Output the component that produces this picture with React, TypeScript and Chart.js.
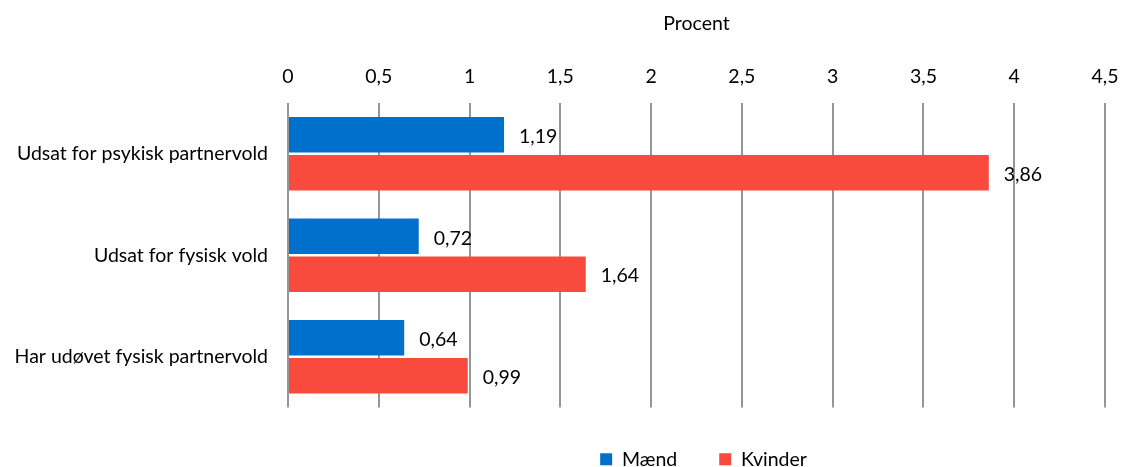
import React, { useEffect, useRef } from "react";
import { Chart, registerables } from "chart.js";

Chart.register(...registerables);

const categories = [
  "Udsat for psykisk partnervold",
  "Udsat for fysisk vold",
  "Har udøvet fysisk partnervold",
];
const maendValues = [1.19, 0.72, 0.64];
const kvinderValues = [3.86, 1.64, 0.99];
const seriesNames = ["Mænd", "Kvinder"];
const axisTitle = "Procent";
const xMin = 0;
const xMax = 4.5;
const xStep = 0.5;

const FONT = "Lato";
const FS = 19.5;
const fmt = (v: number, digits?: number) =>
  (digits !== undefined ? v.toFixed(digits) : String(v)).replace(".", ",");

const valueLabels = {
  id: "valueLabels",
  afterDatasetsDraw(chart: any) {
    const ctx = chart.ctx;
    ctx.save();
    ctx.font = `${FS}px ${FONT}`;
    ctx.fillStyle = "#000";
    ctx.textAlign = "left";
    ctx.textBaseline = "middle";
    chart.data.datasets.forEach((ds: any, di: number) => {
      const meta = chart.getDatasetMeta(di);
      meta.data.forEach((bar: any, i: number) => {
        ctx.fillText(fmt(ds.data[i], 2), bar.x + 15, bar.y + 2);
      });
    });
    ctx.restore();
  },
};

const legendShift = {
  id: "legendShift",
  afterLayout(chart: any) {
    if (chart.legend) {
      chart.legend.left += 7;
      chart.legend.right += 7;
    }
  },
};

export default function App() {
  const ref = useRef<HTMLCanvasElement>(null);
  useEffect(() => {
    if (!ref.current) return;
    const chart = new Chart(ref.current, {
      type: "bar",
      data: {
        labels: categories,
        datasets: [
          {
            label: seriesNames[0],
            data: maendValues,
            backgroundColor: "#0070cc",
            categoryPercentage: 0.745,
            barPercentage: 0.94,
          },
          {
            label: seriesNames[1],
            data: kvinderValues,
            backgroundColor: "#f84a3d",
            categoryPercentage: 0.745,
            barPercentage: 0.94,
          },
        ],
      },
      plugins: [valueLabels, legendShift],
      options: {
        indexAxis: "y",
        animation: false,
        responsive: false,
        maintainAspectRatio: false,
        layout: { padding: { left: 0, right: 17, top: 0, bottom: -12 } },
        plugins: {
          tooltip: { enabled: false },
          legend: {
            position: "bottom",
            fullSize: false,
            labels: {
              boxWidth: 12,
              boxHeight: 12,
              padding: 42,
              color: "#000",
              font: { family: FONT, size: FS },
            },
          },
        },
        scales: {
          x: {
            position: "top",
            min: xMin,
            max: xMax,
            afterFit: (s: any) => {
              s.height = 103;
              s.paddingLeft = 0;
              s.paddingRight = 0;
            },
            ticks: {
              stepSize: xStep,
              color: "#000",
              padding: 15,
              font: { family: FONT, size: FS },
              callback: (v: any) => fmt(Number(v)),
            },
            grid: { color: "#969696", lineWidth: 2, drawTicks: false },
            border: { display: false },
            title: {
              display: true,
              text: axisTitle,
              color: "#000",
              font: { family: FONT, size: FS },
              padding: { top: 12, bottom: 0 },
            },
          },
          y: {
            afterFit: (s: any) => {
              s.width = 288;
            },
            ticks: {
              color: "#000",
              padding: 20,
              font: { family: FONT, size: FS },
            },
            grid: { display: false, drawTicks: false },
            border: { display: false },
          },
        },
      },
    });
    return () => chart.destroy();
  }, []);
  return (
    <div style={{ position: "fixed", left: 0, top: 0, width: 1122, height: 467, background: "#fff" }}>
      <canvas ref={ref} width={1122} height={467} />
    </div>
  );
}
